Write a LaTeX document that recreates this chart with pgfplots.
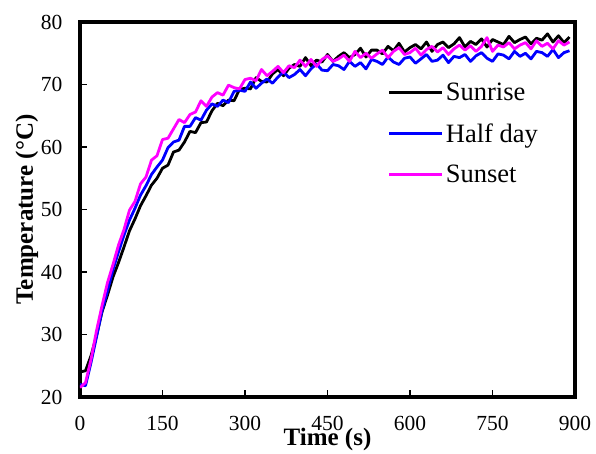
\documentclass[border=0pt]{standalone}
\usepackage{fontspec}
\setmainfont{Liberation Serif}
\usepackage{pgfplots}
\pgfplotsset{compat=1.18}
\definecolor{mag}{RGB}{255,0,255}
\definecolor{blu}{RGB}{0,0,255}
\begin{document}
\begin{tikzpicture}
\useasboundingbox (-80pt,-56pt) rectangle (516pt,397pt);
\begin{axis}[
  scale only axis,
  width=495pt, height=375pt,
  xmin=0, xmax=900, ymin=20, ymax=80,
  xtick={0,150,300,450,600,750,900},
  ytick={20,30,40,50,60,70,80},
  xtick pos=left, ytick pos=left,
  tick align=inside,
  major tick length=7pt,
  every tick/.style={black, line width=1.8pt},
  axis line style={line width=3.8pt},
  /pgf/number format/assume math mode=true,
  tick label style={font=\fontsize{21.5}{24}\selectfont},
  yticklabel style={xshift=-14pt},
  xticklabel style={yshift=-16pt},
  xlabel={\textbf{Time (s)}},
  ylabel={\textbf{Temperature (°C)}},
  label style={font=\fontsize{25}{28}\selectfont},
  xlabel style={at={(axis description cs:0.5,-0.128)}, anchor=base},
  ylabel style={at={(axis description cs:-0.095,0.5)}, anchor=base},
  legend cell align=left,
  legend image code/.code={\draw[#1] (0pt,0pt) -- (53pt,0pt);},
  legend style={draw=none, fill=none, inner sep=0pt,
    font=\fontsize{26.5}{28}\selectfont, row sep=17.5pt,
    at={(axis description cs:0.622,0.843)}, anchor=north west},
  every axis plot/.append style={line join=round},
]
\addplot[black, line width=2.8pt] coordinates {
(0,24.0)(10,24.2)(20,26.6)(30,29.8)(40,33.6)(50,36.3)(60,39.2)(70,41.5)(80,44.0)(90,46.6)
(100,48.5)(110,50.6)(120,52.2)(130,53.9)(140,55.0)
(150,56.6)(160,57.1)(170,59.2)(180,59.5)(190,60.8)(200,62.5)(210,62.3)(220,63.9)(230,64.0)(240,65.8)
(250,67.0)(260,66.6)(270,67.5)(280,67.4)(290,69.2)(300,69.4)(310,69.3)(320,71.1)(330,70.5)(340,70.4)
(350,71.7)(360,72.4)(370,71.4)(380,72.6)(390,73.2)(400,72.9)(410,74.3)(420,73.0)(430,73.9)(440,73.6)
(450,74.8)(460,73.7)(470,74.5)(480,75.1)(490,74.3)(500,74.8)(510,75.8)(520,74.4)(530,75.5)(540,75.5)
(550,74.9)(560,76.1)(570,75.4)(580,76.6)(590,75.2)(600,75.9)(610,76.4)(620,75.7)(630,76.8)(640,75.3)
(650,76.4)(660,76.8)(670,75.9)(680,76.5)(690,77.5)(700,76.0)(710,76.9)(720,76.4)(730,77.3)(740,76.0)
(750,77.2)(760,76.8)(770,76.4)(780,77.7)(790,76.7)(800,77.2)(810,77.6)(820,76.5)(830,77.4)(840,77.1)
(850,78.1)(860,76.8)(870,77.8)(880,76.7)(890,77.6)
};
\addlegendentry{Sunrise}
\addplot[blu, line width=2.8pt] coordinates {
(0,22.0)(10,21.8)(20,25.5)(30,29.6)(40,33.8)(50,37.0)(60,40.4)(70,43.2)(80,45.9)(90,48.3)
(100,50.2)(110,52.3)(120,53.8)(130,55.6)(140,56.8)
(150,57.9)(160,59.9)(170,60.8)(180,61.1)(190,63.3)(200,63.3)(210,64.7)(220,64.3)(230,65.9)(240,66.9)
(250,66.5)(260,67.5)(270,67.1)(280,68.9)(290,69.1)(300,68.9)(310,70.4)(320,69.4)(330,70.2)(340,70.9)
(350,70.2)(360,71.2)(370,72.0)(380,71.1)(390,71.6)(400,72.4)(410,71.4)(420,72.5)(430,73.3)(440,72.3)
(450,72.2)(460,73.2)(470,73.0)(480,72.4)(490,73.7)(500,72.9)(510,73.5)(520,72.5)(530,74.0)(540,73.7)
(550,73.2)(560,74.4)(570,73.6)(580,73.2)(590,74.2)(600,74.4)(610,73.4)(620,74.1)(630,74.8)(640,73.7)
(650,73.9)(660,74.7)(670,73.5)(680,74.5)(690,74.3)(700,74.8)(710,73.7)(720,74.6)(730,75.1)(740,74.2)
(750,73.7)(760,74.9)(770,74.7)(780,74.1)(790,75.3)(800,74.5)(810,75.0)(820,74.1)(830,75.3)(840,75.1)
(850,74.5)(860,75.6)(870,74.3)(880,75.1)(890,75.4)
};
\addlegendentry{Half day}
\addplot[mag, line width=2.8pt] coordinates {
(0,21.5)(10,22.3)(20,26.0)(30,30.6)(40,34.6)(50,38.3)(60,41.2)(70,44.3)(80,46.8)(90,49.9)
(100,51.3)(110,54.1)(120,55.2)(130,57.9)(140,58.6)
(150,61.2)(160,61.4)(170,62.9)(180,64.4)(190,63.9)(200,65.2)(210,65.6)(220,67.4)(230,66.5)(240,68.0)
(250,68.7)(260,68.3)(270,69.9)(280,69.5)(290,69.3)(300,70.8)(310,71.0)(320,70.6)(330,72.4)(340,71.4)
(350,72.1)(360,72.9)(370,71.9)(380,73.0)(390,72.7)(400,73.9)(410,72.9)(420,74.0)(430,72.9)(440,74.0)
(450,74.6)(460,73.7)(470,74.1)(480,74.7)(490,73.7)(500,75.3)(510,74.3)(520,75.0)(530,74.2)(540,74.9)
(550,75.5)(560,74.3)(570,75.3)(580,75.9)(590,74.8)(600,75.1)(610,75.8)(620,74.7)(630,75.6)(640,76.1)
(650,75.2)(660,75.9)(670,74.8)(680,75.7)(690,76.3)(700,75.5)(710,76.2)(720,75.3)(730,76.1)(740,77.5)
(750,75.3)(760,76.3)(770,76.0)(780,76.7)(790,75.7)(800,76.3)(810,76.7)(820,75.7)(830,77.0)(840,76.1)
(850,76.6)(860,75.7)(870,77.0)(880,76.3)(890,76.8)
};
\addlegendentry{Sunset}
\end{axis}
\end{tikzpicture}
\end{document}
